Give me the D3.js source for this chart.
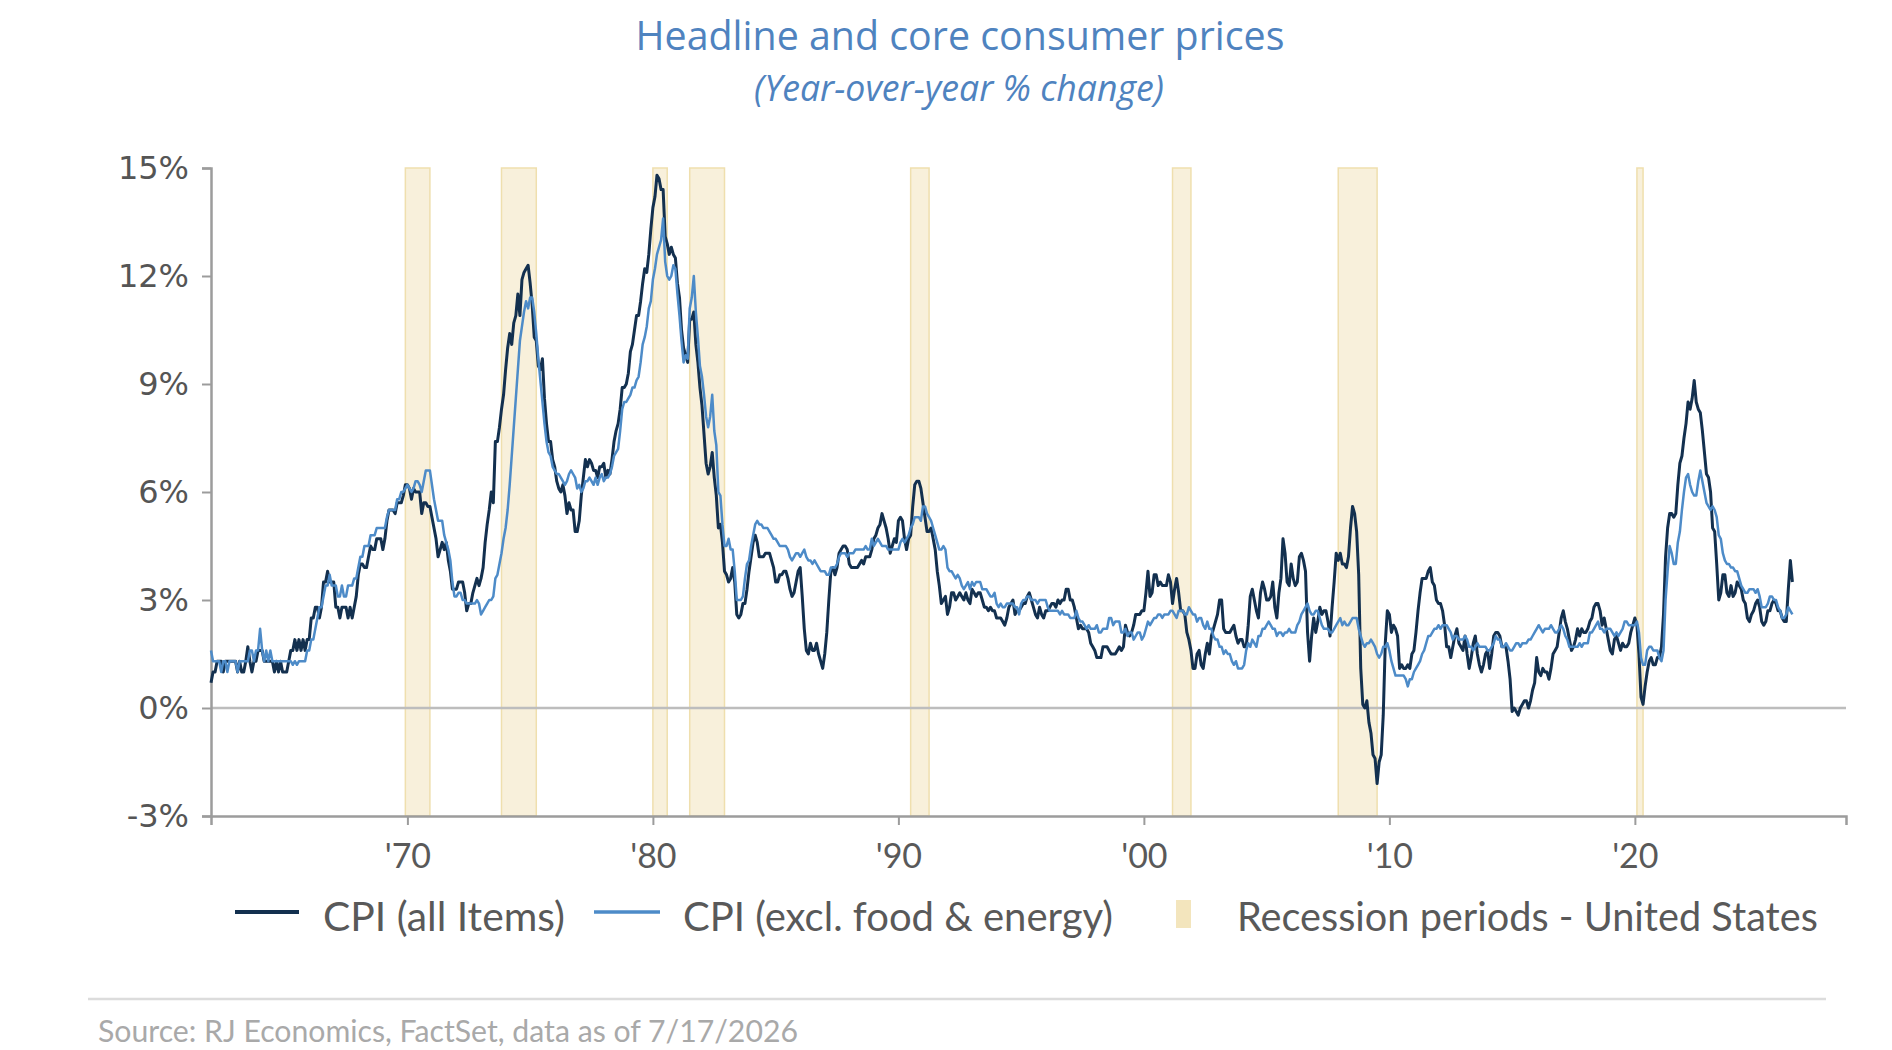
<!DOCTYPE html>
<html>
<head>
<meta charset="utf-8">
<title>Headline and core consumer prices</title>
<script src="https://cdn.jsdelivr.net/npm/d3@7"></script>
<style>
  body { margin: 0; background: #fff; }
  svg { display: block; }
</style>
</head>
<body>
<svg id="chart" width="1892" height="1050"></svg>
<script>
// monthly year-over-year % change, first value is Jan 1962
const firstMonth = "1962-01";

const cpiAll = [
  0.7,1.0,1.0,1.3,1.3,1.3,1.0,1.3,1.3,1.3,1.3,1.3,   // 1962
  1.3,1.0,1.3,1.0,1.0,1.3,1.7,1.3,1.0,1.3,1.3,1.6,   // 1963
  1.6,1.6,1.3,1.3,1.3,1.3,1.3,1.0,1.3,1.0,1.3,1.0,   // 1964
  1.0,1.0,1.3,1.6,1.6,1.9,1.6,1.9,1.6,1.9,1.6,1.9,   // 1965
  1.9,2.5,2.5,2.8,2.8,2.5,2.8,3.5,3.5,3.8,3.5,3.5,   // 1966
  3.5,2.8,2.8,2.5,2.8,2.8,2.8,2.5,2.8,2.5,2.8,3.1,   // 1967
  3.7,4.0,4.0,3.9,3.9,4.2,4.5,4.4,4.4,4.7,4.7,4.7,   // 1968
  4.4,4.7,5.2,5.5,5.5,5.5,5.4,5.7,5.7,5.7,5.9,6.2,   // 1969
  6.2,6.1,5.8,6.1,6.0,6.0,6.0,5.4,5.7,5.7,5.6,5.6,   // 1970
  5.3,5.0,4.7,4.2,4.4,4.6,4.4,4.6,4.1,3.8,3.3,3.3,   // 1971
  3.3,3.5,3.5,3.5,3.2,2.7,2.9,2.9,3.2,3.4,3.6,3.4,   // 1972
  3.6,3.9,4.6,5.1,5.5,6.0,5.7,7.4,7.4,7.8,8.3,8.7,   // 1973
  9.4,10.0,10.4,10.1,10.7,10.9,11.5,10.9,11.9,12.1,12.2,12.3, // 1974
  11.8,11.2,10.3,10.2,9.5,9.4,9.7,8.6,7.9,7.4,7.4,6.9, // 1975
  6.7,6.3,6.1,6.0,6.2,5.9,5.4,5.7,5.5,5.5,4.9,4.9,   // 1976
  5.2,5.9,6.4,6.9,6.7,6.9,6.8,6.6,6.6,6.4,6.7,6.7,   // 1977
  6.8,6.4,6.6,6.5,6.9,7.4,7.7,7.9,8.3,8.9,8.9,9.0,   // 1978
  9.3,9.9,10.1,10.5,10.9,10.9,11.3,11.8,12.2,12.1,12.6,13.3, // 1979
  13.9,14.2,14.8,14.7,14.4,14.4,13.1,12.9,12.6,12.8,12.6,12.5, // 1980
  11.8,11.4,10.5,10.0,9.8,9.6,10.8,10.8,11.0,10.1,9.6,8.9, // 1981
  8.4,7.6,6.8,6.5,6.7,7.1,6.4,5.9,5.0,5.1,4.6,3.8,   // 1982
  3.7,3.5,3.6,3.9,3.5,2.6,2.5,2.6,2.9,2.9,3.3,3.8,   // 1983
  4.2,4.6,4.8,4.6,4.2,4.2,4.2,4.3,4.3,4.3,4.1,3.9,   // 1984
  3.5,3.5,3.7,3.7,3.8,3.8,3.6,3.3,3.1,3.2,3.5,3.8,   // 1985
  3.9,3.1,2.2,1.6,1.5,1.8,1.6,1.6,1.8,1.5,1.3,1.1,   // 1986
  1.5,2.1,3.0,3.8,3.9,3.7,3.9,4.3,4.4,4.5,4.5,4.4,   // 1987
  4.0,3.9,3.9,3.9,3.9,4.0,4.1,4.0,4.2,4.2,4.2,4.4,   // 1988
  4.7,4.8,5.0,5.1,5.4,5.2,5.0,4.7,4.3,4.5,4.7,4.6,   // 1989
  5.2,5.3,5.2,4.7,4.4,4.7,4.8,5.6,6.2,6.3,6.3,6.1,   // 1990
  5.7,5.3,4.9,4.9,5.0,4.7,4.4,3.8,3.4,2.9,3.0,3.1,   // 1991
  2.6,2.8,3.2,3.2,3.0,3.1,3.2,3.1,3.0,3.2,3.0,2.9,   // 1992
  3.3,3.2,3.1,3.2,3.2,3.0,2.8,2.8,2.7,2.8,2.7,2.7,   // 1993
  2.5,2.5,2.5,2.4,2.3,2.5,2.8,2.9,3.0,2.6,2.7,2.7,   // 1994
  2.8,2.9,2.9,3.1,3.2,3.0,2.8,2.6,2.5,2.8,2.6,2.5,   // 1995
  2.7,2.7,2.8,2.9,2.9,2.8,3.0,2.9,3.0,3.0,3.3,3.3,   // 1996
  3.0,3.0,2.8,2.5,2.2,2.3,2.2,2.2,2.2,2.1,1.8,1.7,   // 1997
  1.6,1.4,1.4,1.4,1.7,1.7,1.7,1.6,1.5,1.5,1.5,1.6,   // 1998
  1.7,1.6,1.7,2.3,2.1,2.0,2.1,2.3,2.6,2.6,2.6,2.7,   // 1999
  2.7,3.2,3.8,3.1,3.2,3.7,3.7,3.4,3.5,3.4,3.4,3.4,   // 2000
  3.7,3.5,2.9,3.3,3.6,3.2,2.7,2.7,2.6,2.1,1.9,1.6,   // 2001
  1.1,1.1,1.5,1.6,1.2,1.1,1.5,1.8,1.5,2.0,2.2,2.4,   // 2002
  2.6,3.0,3.0,2.2,2.1,2.1,2.1,2.2,2.3,2.0,1.8,1.9,   // 2003
  1.9,1.7,1.7,2.3,3.1,3.3,3.0,2.7,2.5,3.2,3.5,3.3,   // 2004
  3.0,3.0,3.1,3.5,2.8,2.5,3.2,3.6,4.7,4.3,3.5,3.4,   // 2005
  4.0,3.6,3.4,3.5,4.2,4.3,4.1,3.8,2.1,1.3,2.0,2.5,   // 2006
  2.1,2.4,2.8,2.6,2.7,2.7,2.4,2.0,2.8,3.5,4.3,4.1,   // 2007
  4.3,4.0,4.0,3.9,4.2,5.0,5.6,5.4,4.9,3.7,1.1,0.1,   // 2008
  0.0,0.2,-0.4,-0.7,-1.3,-1.4,-2.1,-1.5,-1.3,-0.2,1.8,2.7, // 2009
  2.6,2.1,2.3,2.2,2.0,1.1,1.2,1.1,1.1,1.2,1.1,1.5,   // 2010
  1.6,2.1,2.7,3.2,3.6,3.6,3.6,3.8,3.9,3.5,3.4,3.0,   // 2011
  2.9,2.9,2.7,2.3,1.7,1.7,1.4,1.7,2.0,2.2,1.8,1.7,   // 2012
  1.6,2.0,1.5,1.1,1.4,1.8,2.0,1.5,1.2,1.0,1.2,1.5,   // 2013
  1.6,1.1,1.5,2.0,2.1,2.1,2.0,1.7,1.7,1.7,1.3,0.8,   // 2014
  -0.1,0.0,-0.1,-0.2,0.0,0.1,0.2,0.2,0.0,0.2,0.5,0.7, // 2015
  1.4,1.0,0.9,1.1,1.0,1.0,0.8,1.1,1.5,1.6,1.7,2.1,   // 2016
  2.5,2.7,2.4,2.2,1.9,1.6,1.7,1.9,2.2,2.0,2.2,2.1,   // 2017
  2.1,2.2,2.4,2.5,2.8,2.9,2.9,2.7,2.3,2.5,2.2,1.9,   // 2018
  1.6,1.5,1.9,2.0,1.8,1.6,1.8,1.7,1.7,1.8,2.1,2.3,   // 2019
  2.5,2.3,1.5,0.3,0.1,0.6,1.0,1.3,1.4,1.2,1.2,1.4,   // 2020
  1.4,1.7,2.6,4.2,5.0,5.4,5.4,5.3,5.4,6.2,6.8,7.0,   // 2021
  7.5,7.9,8.5,8.3,8.6,9.1,8.5,8.3,8.2,7.7,7.1,6.5,   // 2022
  6.4,6.0,5.0,4.9,4.0,3.0,3.2,3.7,3.7,3.2,3.1,3.4,   // 2023
  3.1,3.2,3.5,3.4,3.3,3.0,2.9,2.5,2.4,2.6,2.7,2.9,   // 2024
  3.0,2.8,2.4,2.3,2.4,2.7,2.7,2.9,3.0,2.9,2.7,2.7,   // 2025
  2.5,2.4,2.4,3.3,4.1,3.5                            // 2026
];

const cpiCore = [
  1.6,1.3,1.3,1.3,1.3,1.0,1.3,1.3,1.0,1.3,1.3,1.3,   // 1962
  1.3,1.0,1.3,1.3,1.3,1.3,1.3,1.6,1.6,1.3,1.6,1.6,   // 1963
  2.2,1.6,1.3,1.6,1.3,1.6,1.3,1.3,1.3,1.3,1.3,1.3,   // 1964
  1.3,1.3,1.3,1.3,1.2,1.3,1.2,1.3,1.3,1.3,1.3,1.6,   // 1965
  1.6,1.9,1.9,2.2,2.5,2.8,2.8,3.1,3.4,3.4,3.7,3.4,   // 1966
  3.4,3.4,3.1,3.1,3.4,3.1,3.1,3.4,3.4,3.4,3.6,3.6,   // 1967
  3.9,4.2,4.2,4.5,4.5,4.5,4.8,4.8,4.8,5.0,5.0,5.0,   // 1968
  5.0,5.0,5.3,5.5,5.5,5.5,5.5,5.8,5.8,6.0,6.0,6.1,   // 1969
  6.2,6.1,6.0,6.1,6.3,6.3,6.2,6.0,6.3,6.6,6.6,6.6,   // 1970
  6.2,5.8,5.5,5.2,5.2,5.2,4.8,4.6,4.4,4.1,3.5,3.1,   // 1971
  3.1,3.2,3.2,3.0,3.0,2.9,2.9,2.9,2.9,2.9,3.0,2.9,   // 1972
  2.6,2.7,2.8,2.9,3.0,3.0,3.1,3.6,3.7,4.0,4.3,4.7,   // 1973
  5.0,5.5,6.2,7.0,7.8,8.6,9.4,10.2,10.6,11.0,11.3,11.1, // 1974
  11.4,11.4,11.0,10.4,9.7,9.1,8.5,7.9,7.4,7.1,7.0,6.7, // 1975
  6.6,6.5,6.5,6.4,6.3,6.2,6.3,6.5,6.6,6.5,6.4,6.1,   // 1976
  6.2,6.0,6.1,6.3,6.3,6.4,6.3,6.2,6.4,6.2,6.4,6.5,   // 1977
  6.3,6.4,6.4,6.5,6.7,7.0,7.1,7.2,7.7,8.3,8.5,8.5,   // 1978
  8.6,8.7,8.9,8.9,9.1,9.2,9.6,10.1,10.3,10.6,11.1,11.3, // 1979
  11.9,12.2,12.6,12.8,13.0,13.6,12.4,12.0,11.9,12.0,12.3,12.2, // 1980
  11.5,10.9,10.2,9.6,9.8,9.7,11.1,11.4,12.0,11.0,10.3,9.5, // 1981
  9.2,8.7,8.1,7.8,8.1,8.7,7.7,7.3,6.0,5.9,5.1,4.5,   // 1982
  4.5,4.7,4.4,4.4,3.8,3.0,3.0,3.0,3.1,3.6,4.0,4.1,   // 1983
  4.5,4.8,5.1,5.2,5.1,5.1,5.0,5.0,5.0,4.9,4.8,4.7,   // 1984
  4.7,4.6,4.5,4.5,4.5,4.5,4.4,4.2,4.1,4.2,4.3,4.3,   // 1985
  4.2,4.3,4.4,4.2,4.1,4.1,4.0,4.1,4.0,3.9,3.8,3.8,   // 1986
  3.8,3.7,3.7,3.9,3.9,3.9,4.0,4.2,4.3,4.3,4.3,4.2,   // 1987
  4.3,4.3,4.3,4.4,4.4,4.4,4.4,4.4,4.5,4.4,4.4,4.7,   // 1988
  4.5,4.6,4.7,4.6,4.5,4.5,4.5,4.4,4.4,4.4,4.4,4.4,   // 1989
  4.4,4.6,4.7,4.6,4.7,4.8,5.0,5.1,5.3,5.3,5.3,5.2,   // 1990
  5.6,5.6,5.4,5.3,5.2,5.0,4.8,4.6,4.4,4.4,4.5,4.4,   // 1991
  3.9,3.8,3.8,3.7,3.6,3.7,3.6,3.4,3.3,3.4,3.5,3.3,   // 1992
  3.5,3.4,3.5,3.5,3.5,3.3,3.3,3.3,3.2,3.1,3.1,3.2,   // 1993
  2.9,2.8,2.9,2.8,2.8,2.9,2.9,2.9,2.9,2.8,2.8,2.6,   // 1994
  2.9,3.0,3.0,3.1,3.1,3.0,3.0,3.0,2.9,3.0,3.0,3.0,   // 1995
  3.0,2.8,2.7,2.7,2.7,2.7,2.7,2.6,2.7,2.6,2.6,2.6,   // 1996
  2.5,2.5,2.5,2.7,2.5,2.4,2.4,2.3,2.2,2.3,2.2,2.2,   // 1997
  2.2,2.3,2.1,2.1,2.2,2.2,2.2,2.5,2.5,2.3,2.4,2.4,   // 1998
  2.4,2.1,2.1,2.2,2.0,2.1,2.1,1.9,2.0,2.1,2.1,1.9,   // 1999
  2.0,2.2,2.4,2.3,2.4,2.5,2.5,2.6,2.6,2.5,2.6,2.6,   // 2000
  2.6,2.7,2.7,2.6,2.5,2.7,2.7,2.7,2.6,2.6,2.8,2.7,   // 2001
  2.6,2.6,2.4,2.5,2.5,2.3,2.2,2.4,2.2,2.2,2.0,1.9,   // 2002
  1.9,1.7,1.7,1.5,1.6,1.5,1.5,1.3,1.2,1.3,1.1,1.1,   // 2003
  1.1,1.2,1.6,1.8,1.7,1.9,1.8,1.7,2.0,2.0,2.2,2.2,   // 2004
  2.3,2.4,2.3,2.2,2.2,2.0,2.1,2.1,2.0,2.1,2.1,2.2,   // 2005
  2.1,2.1,2.1,2.3,2.4,2.6,2.7,2.8,2.9,2.7,2.6,2.6,   // 2006
  2.7,2.7,2.5,2.3,2.2,2.2,2.2,2.1,2.1,2.2,2.3,2.4,   // 2007
  2.5,2.3,2.4,2.3,2.3,2.4,2.5,2.5,2.5,2.2,2.0,1.8,   // 2008
  1.7,1.8,1.8,1.9,1.8,1.7,1.5,1.4,1.5,1.7,1.7,1.8,   // 2009
  1.6,1.3,1.1,0.9,0.9,0.9,0.9,0.9,0.8,0.6,0.8,0.8,   // 2010
  1.0,1.1,1.2,1.3,1.5,1.6,1.8,2.0,2.0,2.1,2.2,2.2,   // 2011
  2.3,2.2,2.3,2.3,2.3,2.2,2.1,1.9,2.0,2.0,1.9,1.9,   // 2012
  1.9,2.0,1.9,1.7,1.7,1.6,1.7,1.8,1.7,1.7,1.7,1.7,   // 2013
  1.6,1.6,1.7,1.8,2.0,1.9,1.9,1.7,1.7,1.8,1.7,1.6,   // 2014
  1.6,1.7,1.8,1.8,1.7,1.8,1.8,1.8,1.9,1.9,2.0,2.1,   // 2015
  2.2,2.3,2.2,2.1,2.2,2.2,2.2,2.3,2.2,2.1,2.1,2.2,   // 2016
  2.3,2.2,2.0,1.9,1.7,1.7,1.7,1.7,1.7,1.8,1.7,1.8,   // 2017
  1.8,1.8,2.1,2.1,2.2,2.3,2.4,2.2,2.2,2.1,2.2,2.2,   // 2018
  2.2,2.1,2.0,2.1,2.0,2.1,2.2,2.4,2.4,2.3,2.3,2.3,   // 2019
  2.3,2.4,2.1,1.4,1.2,1.2,1.6,1.7,1.7,1.6,1.6,1.6,   // 2020
  1.4,1.3,1.6,3.0,3.8,4.5,4.3,4.0,4.0,4.6,4.9,5.5,   // 2021
  6.0,6.4,6.5,6.2,6.0,5.9,5.9,6.3,6.6,6.3,6.0,5.7,   // 2022
  5.6,5.5,5.6,5.5,5.3,4.8,4.7,4.3,4.1,4.0,4.0,3.9,   // 2023
  3.9,3.8,3.8,3.6,3.4,3.3,3.2,3.2,3.3,3.3,3.3,3.2,   // 2024
  3.3,3.1,2.8,2.8,2.8,2.9,3.1,3.1,3.0,3.0,2.8,2.7,   // 2025
  2.5,2.5,2.6,2.8,2.7,2.6                            // 2026
];

// NBER recessions, first and last month
const recessions = [
  ["1969-12", "1970-11"], ["1973-11", "1975-03"], ["1980-01", "1980-07"],
  ["1981-07", "1982-11"], ["1990-07", "1991-03"], ["2001-03", "2001-11"],
  ["2007-12", "2009-06"], ["2020-02", "2020-04"]
];

const yTicks = [-3, 0, 3, 6, 9, 12, 15];
const xTicks = [1970, 1980, 1990, 2000, 2010, 2020];
const xTickLabels = ["'70", "'80", "'90", "'00", "'10", "'20"];
const seriesNames = ["CPI (all Items)", "CPI (excl. food & energy)"];
const recessionName = "Recession periods - United States";
const titleText = "Headline and core consumer prices";
const subtitleText = "(Year-over-year % change)";
const sourceText = "Source: RJ Economics, FactSet, data as of 7/17/2026";

const darkBlue = "#13304f";
const lightBlue = "#4d8bc8";
const recFill = "#f8f0db";
const recEdge = "#efdfae";
const grey = "#595959";
const labelFont = "Lato, 'Open Sans', sans-serif";

const svg = d3.select("#chart");

const x = d3.scaleLinear().domain([1962, 2028.6]).range([211, 1846]);
const y = d3.scaleLinear().domain([-3, 15]).range([816, 168]);

const monthPos = s => { const p = s.split("-"); return +p[0] + (+p[1] - 1) / 12; };
const start = monthPos(firstMonth);
const toPoints = arr => arr.map((v, i) => ({ t: start + i / 12, v: v }));

// shrink or grow a text so it spans the given width
function fit(sel, w) {
  const fs = parseFloat(sel.attr("font-size"));
  const len = sel.node().getComputedTextLength();
  if (len > 0) sel.attr("font-size", (fs * w / len).toFixed(2));
  return sel;
}

// titles
fit(svg.append("text")
  .attr("x", 960).attr("y", 50)
  .attr("text-anchor", "middle")
  .attr("font-family", "'Open Sans', sans-serif")
  .attr("font-size", 36)
  .attr("fill", "#4f83bf")
  .text(titleText), 649);

fit(svg.append("text")
  .attr("x", 959).attr("y", 101)
  .attr("text-anchor", "middle")
  .attr("font-family", "'Open Sans', sans-serif")
  .attr("font-style", "italic")
  .attr("font-size", 26)
  .attr("fill", "#4f83bf")
  .text(subtitleText), 410);

// recession bands
svg.append("g")
  .selectAll("rect")
  .data(recessions)
  .enter()
  .append("rect")
  .attr("x", d => x(monthPos(d[0])))
  .attr("width", d => x(monthPos(d[1]) + 1 / 12) - x(monthPos(d[0])))
  .attr("y", y(15))
  .attr("height", y(-3) - y(15))
  .attr("fill", recFill)
  .attr("stroke", recEdge)
  .attr("stroke-width", 1.5);

// zero line
svg.append("line")
  .attr("x1", x(1962)).attr("x2", x(2028.6))
  .attr("y1", y(0)).attr("y2", y(0))
  .attr("stroke", "#bdbdbd")
  .attr("stroke-width", 2.5);

// axes
const yAxis = svg.append("g")
  .attr("transform", `translate(${x(1962)},0)`)
  .call(d3.axisLeft(y).tickValues(yTicks).tickSize(9).tickPadding(13).tickFormat(d => d + "%"));
yAxis.select(".domain").attr("stroke", "#9c9c9c").attr("stroke-width", 2.5);
yAxis.selectAll(".tick line").attr("stroke", "#9c9c9c").attr("stroke-width", 2);
yAxis.selectAll(".tick text")
  .attr("font-family", "'DejaVu Sans', Verdana, sans-serif")
  .attr("font-size", 32)
  .attr("fill", "#555555");

const xAxis = svg.append("g")
  .attr("transform", `translate(0,${y(-3)})`)
  .call(d3.axisBottom(x).tickValues(xTicks).tickSize(9).tickPadding(19)
    .tickFormat((d, i) => xTickLabels[i]));
xAxis.select(".domain").attr("stroke", "#9c9c9c").attr("stroke-width", 2.5);
xAxis.selectAll(".tick line").attr("stroke", "#9c9c9c").attr("stroke-width", 2);
xAxis.selectAll(".tick text")
  .attr("font-family", labelFont)
  .attr("font-size", 34)
  .attr("fill", grey);

// series
const line = d3.line().x(d => x(d.t)).y(d => y(d.v));

svg.append("path")
  .datum(toPoints(cpiAll))
  .attr("fill", "none")
  .attr("stroke", darkBlue)
  .attr("stroke-width", 3)
  .attr("stroke-linejoin", "round")
  .attr("d", line);

svg.append("path")
  .datum(toPoints(cpiCore))
  .attr("fill", "none")
  .attr("stroke", lightBlue)
  .attr("stroke-width", 2.5)
  .attr("stroke-linejoin", "round")
  .attr("d", line);

// legend
const legend = svg.append("g");
const legY = 912;
const legTextY = legY + 19;

legend.append("line")
  .attr("x1", 235).attr("x2", 299).attr("y1", legY).attr("y2", legY)
  .attr("stroke", darkBlue).attr("stroke-width", 4);
fit(legend.append("text")
  .attr("x", 323).attr("y", legTextY)
  .attr("font-family", labelFont).attr("font-size", 34).attr("fill", grey)
  .text(seriesNames[0]), 242);

legend.append("line")
  .attr("x1", 594).attr("x2", 660).attr("y1", legY).attr("y2", legY)
  .attr("stroke", lightBlue).attr("stroke-width", 3.5);
fit(legend.append("text")
  .attr("x", 683).attr("y", legTextY)
  .attr("font-family", labelFont).attr("font-size", 34).attr("fill", grey)
  .text(seriesNames[1]), 430);

legend.append("rect")
  .attr("x", 1176).attr("y", 900).attr("width", 15).attr("height", 28)
  .attr("fill", "#f3e5bd");
fit(legend.append("text")
  .attr("x", 1237).attr("y", legTextY)
  .attr("font-family", labelFont).attr("font-size", 34).attr("fill", grey)
  .text(recessionName), 581);

// footer
svg.append("line")
  .attr("x1", 88).attr("x2", 1826).attr("y1", 999).attr("y2", 999)
  .attr("stroke", "#dcdcdc").attr("stroke-width", 2.5);

fit(svg.append("text")
  .attr("x", 98).attr("y", 1042)
  .attr("font-family", labelFont).attr("font-size", 26).attr("fill", "#a9a9a9")
  .text(sourceText), 700);
</script>
</body>
</html>
